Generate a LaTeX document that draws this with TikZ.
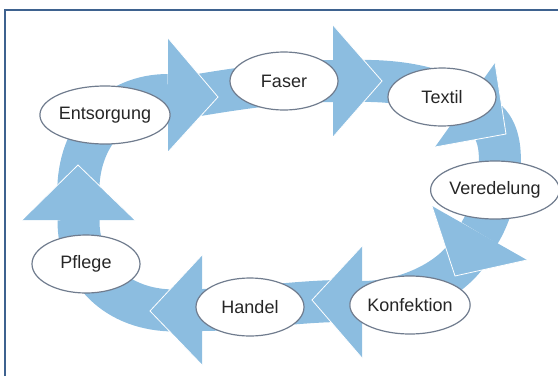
\documentclass[tikz,border=0pt]{standalone}
\usepackage{fontspec}
\setmainfont{Liberation Sans}
\usepackage{tikz}
\usepackage{xcolor}
\usetikzlibrary{shapes.geometric,calc}

\definecolor{cycleblue}{RGB}{140,189,224}
\definecolor{frameblue}{RGB}{62,98,143}
\definecolor{rimgray}{RGB}{112,124,142}

\tikzset{
	stage/.style={ellipse, draw=rimgray, line width=1.2, fill=white, text=black!85,
		minimum width=108, minimum height=58, inner sep=0pt,
		font=\fontsize{18}{21}\selectfont},
	band/.style={draw=cycleblue, line width=42},
	head/.style={fill=cycleblue},
	headrim/.style={draw=white, line width=0.8},
}

\begin{document}
\begin{tikzpicture}[x=1pt, y=-1pt]
	\useasboundingbox (0,0) rectangle (558,376);
	\draw[frameblue, line width=2.5] (5,376) -- (5,10) -- (558,10);

	% arrow heads: base corners a, b and tip t
	\coordinate (h1a) at (168,38);  \coordinate (h1b) at (168,152); \coordinate (h1t) at (218,97);
	\coordinate (h2a) at (333,25);  \coordinate (h2b) at (333,137); \coordinate (h2t) at (382,81);
	\coordinate (h3a) at (495,63);  \coordinate (h3b) at (435,147); \coordinate (h3t) at (506,134);
	\coordinate (h4a) at (432,206); \coordinate (h4b) at (527,260); \coordinate (h4t) at (455,276);
	\coordinate (h5a) at (362,246); \coordinate (h5b) at (362,358); \coordinate (h5t) at (312,300);
	\coordinate (h6a) at (202,255); \coordinate (h6b) at (202,365); \coordinate (h6t) at (150,311);
	\coordinate (h7a) at (22,220);  \coordinate (h7b) at (135,220); \coordinate (h7t) at (78,165);
	\foreach \i in {1,...,7}
	{
		\coordinate (h\i c) at ($(h\i a)!.5!(h\i b)$);
		\coordinate (h\i m) at ($(h\i c)!.5!(h\i t)$);
	}

	% curved bands
	\draw[band] (h7m) .. controls (78,135) and (115,95) .. (h1c);
	\draw[band] (h1m) .. controls (240,88) and (290,81) .. (h2c);
	\draw[band] (h2m) .. controls (400,80) and (440,88) .. (h3c);
	\draw[band] (h3m) .. controls (512,140) and (497,205) .. (h4c);
	\draw[band] (h4m) .. controls (445,285) and (400,302) .. (h5c);
	\draw[band] (h5m) .. controls (290,302) and (240,310) .. (h6c);
	\draw[band] (h6m) .. controls (115,311) and (78,270) .. (h7c);
	\foreach \i in {1,...,7}
	{
		\fill[head] (h\i a) -- (h\i t) -- (h\i b) -- cycle;
		\draw[headrim] (h\i a) -- (h\i t) -- (h\i b);
	}

	% stages
	\node[stage] (faser) at (284,81) {Faser};
	\node[stage] (textil) at (442,97) {Textil};
	\node[stage] (veredelung) at (495,190) {Veredelung};
	\node[stage] (konfektion) at (410,305) {Konfektion};
	\node[stage] (handel) at (250,307) {Handel};
	\node[stage] (pflege) at (86,264) {Pflege};
	\node[stage] (entsorgung) at (105,115) {Entsorgung};
\end{tikzpicture}
\end{document}
